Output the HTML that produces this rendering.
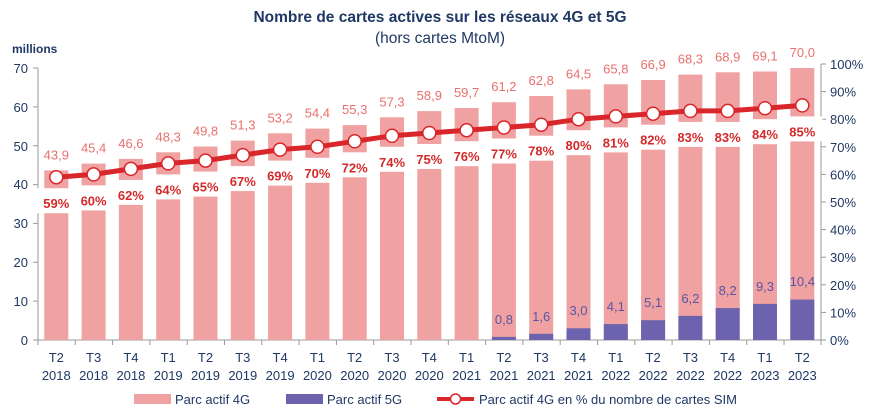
<!DOCTYPE html>
<html><head><meta charset="utf-8"><style>
body{margin:0;background:#fff}
svg{display:block;font-family:"Liberation Sans",Arial,sans-serif}
.ax{fill:#1f3864;font-size:13px}
.v{fill:#e8706e;font-size:13px;text-anchor:middle}
.p{fill:#d42a2a;font-size:13px;font-weight:bold;text-anchor:middle}
.g{fill:#5b55a5;font-size:13px;text-anchor:middle}
.b4{fill:#f0a1a1}
.b5{fill:#6c62ad}
</style></head><body>
<svg width="878" height="417" viewBox="0 0 878 417">
<text x="440" y="22" text-anchor="middle" font-size="15.5" font-weight="bold" fill="#1f3864">Nombre de cartes actives sur les réseaux 4G et 5G</text>
<text x="440" y="43" text-anchor="middle" font-size="15.5" fill="#1f3864">(hors cartes MtoM)</text>
<text x="12" y="53" font-size="12" font-weight="bold" fill="#1f3864">millions</text>

<!-- left axis -->
<g stroke="#999" stroke-width="1">
<line x1="38" y1="68" x2="38" y2="340"/>
<line x1="33" y1="68" x2="38" y2="68"/><line x1="33" y1="106.9" x2="38" y2="106.9"/><line x1="33" y1="145.7" x2="38" y2="145.7"/><line x1="33" y1="184.6" x2="38" y2="184.6"/><line x1="33" y1="223.4" x2="38" y2="223.4"/><line x1="33" y1="262.3" x2="38" y2="262.3"/><line x1="33" y1="301.1" x2="38" y2="301.1"/><line x1="33" y1="340" x2="38" y2="340"/>
<line x1="821" y1="64" x2="821" y2="340"/>
<line x1="821" y1="64" x2="826" y2="64"/><line x1="821" y1="91.6" x2="826" y2="91.6"/><line x1="821" y1="119.2" x2="826" y2="119.2"/><line x1="821" y1="146.8" x2="826" y2="146.8"/><line x1="821" y1="174.4" x2="826" y2="174.4"/><line x1="821" y1="202" x2="826" y2="202"/><line x1="821" y1="229.6" x2="826" y2="229.6"/><line x1="821" y1="257.2" x2="826" y2="257.2"/><line x1="821" y1="284.8" x2="826" y2="284.8"/><line x1="821" y1="312.4" x2="826" y2="312.4"/><line x1="821" y1="340" x2="826" y2="340"/>
<line x1="38" y1="340" x2="821" y2="340"/>
</g>
<g stroke="#999"><line x1="38" y1="340" x2="38" y2="345"/><line x1="75.3" y1="340" x2="75.3" y2="345"/><line x1="112.6" y1="340" x2="112.6" y2="345"/><line x1="149.9" y1="340" x2="149.9" y2="345"/><line x1="187.2" y1="340" x2="187.2" y2="345"/><line x1="224.5" y1="340" x2="224.5" y2="345"/><line x1="261.8" y1="340" x2="261.8" y2="345"/><line x1="299.1" y1="340" x2="299.1" y2="345"/><line x1="336.4" y1="340" x2="336.4" y2="345"/><line x1="373.7" y1="340" x2="373.7" y2="345"/><line x1="411" y1="340" x2="411" y2="345"/><line x1="448.3" y1="340" x2="448.3" y2="345"/><line x1="485.6" y1="340" x2="485.6" y2="345"/><line x1="522.9" y1="340" x2="522.9" y2="345"/><line x1="560.2" y1="340" x2="560.2" y2="345"/><line x1="597.5" y1="340" x2="597.5" y2="345"/><line x1="634.8" y1="340" x2="634.8" y2="345"/><line x1="672.1" y1="340" x2="672.1" y2="345"/><line x1="709.4" y1="340" x2="709.4" y2="345"/><line x1="746.7" y1="340" x2="746.7" y2="345"/><line x1="784" y1="340" x2="784" y2="345"/><line x1="821" y1="340" x2="821" y2="345"/></g>

<g class="ax" text-anchor="end" font-size="13">
<text x="28" y="73">70</text><text x="28" y="112">60</text><text x="28" y="151">50</text><text x="28" y="189">40</text><text x="28" y="228">30</text><text x="28" y="267">20</text><text x="28" y="306">10</text><text x="28" y="345">0</text>
</g>
<g class="ax">
<text x="830" y="69">100%</text><text x="830" y="96.6">90%</text><text x="830" y="124.2">80%</text><text x="830" y="151.8">70%</text><text x="830" y="179.4">60%</text><text x="830" y="207">50%</text><text x="830" y="234.6">40%</text><text x="830" y="262.2">30%</text><text x="830" y="289.8">20%</text><text x="830" y="317.4">10%</text><text x="830" y="345">0%</text>
</g>

<!-- 4G bars -->
<g class="b4">
<rect x="44.3" y="170.4" width="24" height="169.6"/><rect x="81.6" y="163.6" width="24" height="176.4"/><rect x="118.9" y="158.9" width="24" height="181.1"/><rect x="156.2" y="152.3" width="24" height="187.7"/><rect x="193.5" y="146.5" width="24" height="193.5"/><rect x="230.8" y="140.6" width="24" height="199.4"/><rect x="268.1" y="133.3" width="24" height="206.7"/><rect x="305.4" y="128.6" width="24" height="211.4"/><rect x="342.7" y="125.1" width="24" height="214.9"/><rect x="380" y="117.3" width="24" height="222.7"/><rect x="417.3" y="111.1" width="24" height="228.9"/><rect x="454.6" y="108" width="24" height="232"/><rect x="491.9" y="102.2" width="24" height="237.8"/><rect x="529.2" y="96" width="24" height="244"/><rect x="566.5" y="89.4" width="24" height="250.6"/><rect x="603.8" y="84.3" width="24" height="255.7"/><rect x="641.1" y="80" width="24" height="260"/><rect x="678.4" y="74.6" width="24" height="265.4"/><rect x="715.7" y="72.3" width="24" height="267.7"/><rect x="753" y="71.5" width="24" height="268.5"/><rect x="790.3" y="68" width="24" height="272"/>
</g>
<!-- 5G bars -->
<g class="b5">
<rect x="491.9" y="336.9" width="24" height="3.1"/><rect x="529.2" y="333.8" width="24" height="6.2"/><rect x="566.5" y="328.3" width="24" height="11.7"/><rect x="603.8" y="324.1" width="24" height="15.9"/><rect x="641.1" y="320.2" width="24" height="19.8"/><rect x="678.4" y="315.9" width="24" height="24.1"/><rect x="715.7" y="308.1" width="24" height="31.9"/><rect x="753" y="303.9" width="24" height="36.1"/><rect x="790.3" y="299.6" width="24" height="40.4"/>
</g>
<!-- white label boxes -->
<g fill="#fff">
<rect x="36.3" y="188.2" width="40" height="25"/><rect x="73.6" y="185.4" width="40" height="25"/><rect x="110.9" y="179.9" width="40" height="25"/><rect x="148.2" y="174.4" width="40" height="25"/><rect x="185.5" y="171.6" width="40" height="25"/><rect x="222.8" y="166.1" width="40" height="25"/><rect x="260.1" y="160.6" width="40" height="25"/><rect x="297.4" y="157.8" width="40" height="25"/><rect x="334.7" y="152.3" width="40" height="25"/><rect x="372" y="146.8" width="40" height="25"/><rect x="409.3" y="144" width="40" height="25"/><rect x="446.6" y="141.2" width="40" height="25"/><rect x="483.9" y="138.5" width="40" height="25"/><rect x="521.2" y="135.7" width="40" height="25"/><rect x="558.5" y="130.2" width="40" height="25"/><rect x="595.8" y="127.4" width="40" height="25"/><rect x="633.1" y="124.7" width="40" height="25"/><rect x="670.4" y="121.9" width="40" height="25"/><rect x="707.7" y="121.9" width="40" height="25"/><rect x="745" y="119.2" width="40" height="25"/><rect x="782.3" y="116.4" width="40" height="25"/>
</g>
<polyline fill="none" stroke="#d9262b" stroke-width="5" stroke-linejoin="round" points="56.3,177.2 93.6,174.4 130.9,168.9 168.2,163.4 205.5,160.6 242.8,155.1 280.1,149.6 317.4,146.8 354.7,141.3 392,135.8 429.3,133 466.6,130.2 503.9,127.5 541.2,124.7 578.5,119.2 615.8,116.4 653.1,113.7 690.4,110.9 727.7,110.9 765,108.2 802.3,105.4"/>
<g fill="#fff" stroke="#d9262b" stroke-width="1.5">
<circle cx="56.3" cy="177.2" r="6.5"/><circle cx="93.6" cy="174.4" r="6.5"/><circle cx="130.9" cy="168.9" r="6.5"/><circle cx="168.2" cy="163.4" r="6.5"/><circle cx="205.5" cy="160.6" r="6.5"/><circle cx="242.8" cy="155.1" r="6.5"/><circle cx="280.1" cy="149.6" r="6.5"/><circle cx="317.4" cy="146.8" r="6.5"/><circle cx="354.7" cy="141.3" r="6.5"/><circle cx="392" cy="135.8" r="6.5"/><circle cx="429.3" cy="133" r="6.5"/><circle cx="466.6" cy="130.2" r="6.5"/><circle cx="503.9" cy="127.5" r="6.5"/><circle cx="541.2" cy="124.7" r="6.5"/><circle cx="578.5" cy="119.2" r="6.5"/><circle cx="615.8" cy="116.4" r="6.5"/><circle cx="653.1" cy="113.7" r="6.5"/><circle cx="690.4" cy="110.9" r="6.5"/><circle cx="727.7" cy="110.9" r="6.5"/><circle cx="765" cy="108.2" r="6.5"/><circle cx="802.3" cy="105.4" r="6.5"/>
</g>
<!-- 4G value labels -->
<g class="v">
<text x="56.3" y="159.4">43,9</text><text x="93.6" y="152.6">45,4</text><text x="130.9" y="147.9">46,6</text><text x="168.2" y="141.3">48,3</text><text x="205.5" y="135.5">49,8</text><text x="242.8" y="129.6">51,3</text><text x="280.1" y="122.3">53,2</text><text x="317.4" y="117.6">54,4</text><text x="354.7" y="114.1">55,3</text><text x="392" y="106.3">57,3</text><text x="429.3" y="100.1">58,9</text><text x="466.6" y="97">59,7</text><text x="503.9" y="91.2">61,2</text><text x="541.2" y="85">62,8</text><text x="578.5" y="78.4">64,5</text><text x="615.8" y="73.3">65,8</text><text x="653.1" y="69">66,9</text><text x="690.4" y="63.6">68,3</text><text x="727.7" y="61.3">68,9</text><text x="765" y="60.5">69,1</text><text x="802.3" y="57">70,0</text>
</g>
<g class="p">
<text x="56.3" y="208.2">59%</text><text x="93.6" y="205.4">60%</text><text x="130.9" y="199.9">62%</text><text x="168.2" y="194.4">64%</text><text x="205.5" y="191.6">65%</text><text x="242.8" y="186.1">67%</text><text x="280.1" y="180.6">69%</text><text x="317.4" y="177.8">70%</text><text x="354.7" y="172.3">72%</text><text x="392" y="166.8">74%</text><text x="429.3" y="164">75%</text><text x="466.6" y="161.2">76%</text><text x="503.9" y="158.5">77%</text><text x="541.2" y="155.7">78%</text><text x="578.5" y="150.2">80%</text><text x="615.8" y="147.4">81%</text><text x="653.1" y="144.7">82%</text><text x="690.4" y="141.9">83%</text><text x="727.7" y="141.9">83%</text><text x="765" y="139.2">84%</text><text x="802.3" y="136.4">85%</text>
</g>
<g class="g">
<text x="503.9" y="324">0,8</text><text x="541.2" y="321">1,6</text><text x="578.5" y="315">3,0</text><text x="615.8" y="311">4,1</text><text x="653.1" y="307">5,1</text><text x="690.4" y="303">6,2</text><text x="727.7" y="295">8,2</text><text x="765" y="291">9,3</text><text x="802.3" y="286">10,4</text>
</g>
<!-- x labels -->
<g class="ax" text-anchor="middle">
<text x="56.3" y="362">T2</text><text x="93.6" y="362">T3</text><text x="130.9" y="362">T4</text><text x="168.2" y="362">T1</text><text x="205.5" y="362">T2</text><text x="242.8" y="362">T3</text><text x="280.1" y="362">T4</text><text x="317.4" y="362">T1</text><text x="354.7" y="362">T2</text><text x="392" y="362">T3</text><text x="429.3" y="362">T4</text><text x="466.6" y="362">T1</text><text x="503.9" y="362">T2</text><text x="541.2" y="362">T3</text><text x="578.5" y="362">T4</text><text x="615.8" y="362">T1</text><text x="653.1" y="362">T2</text><text x="690.4" y="362">T3</text><text x="727.7" y="362">T4</text><text x="765" y="362">T1</text><text x="802.3" y="362">T2</text>
<text x="56.3" y="380">2018</text><text x="93.6" y="380">2018</text><text x="130.9" y="380">2018</text><text x="168.2" y="380">2019</text><text x="205.5" y="380">2019</text><text x="242.8" y="380">2019</text><text x="280.1" y="380">2019</text><text x="317.4" y="380">2020</text><text x="354.7" y="380">2020</text><text x="392" y="380">2020</text><text x="429.3" y="380">2020</text><text x="466.6" y="380">2021</text><text x="503.9" y="380">2021</text><text x="541.2" y="380">2021</text><text x="578.5" y="380">2021</text><text x="615.8" y="380">2022</text><text x="653.1" y="380">2022</text><text x="690.4" y="380">2022</text><text x="727.7" y="380">2022</text><text x="765" y="380">2023</text><text x="802.3" y="380">2023</text>
</g>
<!-- legend -->
<rect x="134" y="394" width="37" height="10" class="b4"/>
<text x="175" y="404" class="ax">Parc actif 4G</text>
<rect x="286" y="394" width="37" height="10" class="b5"/>
<text x="327" y="404" class="ax">Parc actif 5G</text>
<line x1="437" y1="399" x2="474" y2="399" stroke="#d9262b" stroke-width="4"/>
<circle cx="455.5" cy="399" r="5" fill="#fff" stroke="#d9262b" stroke-width="1.5"/>
<text x="479" y="404" class="ax">Parc actif 4G en % du nombre de cartes SIM</text>
</svg>
</body></html>
